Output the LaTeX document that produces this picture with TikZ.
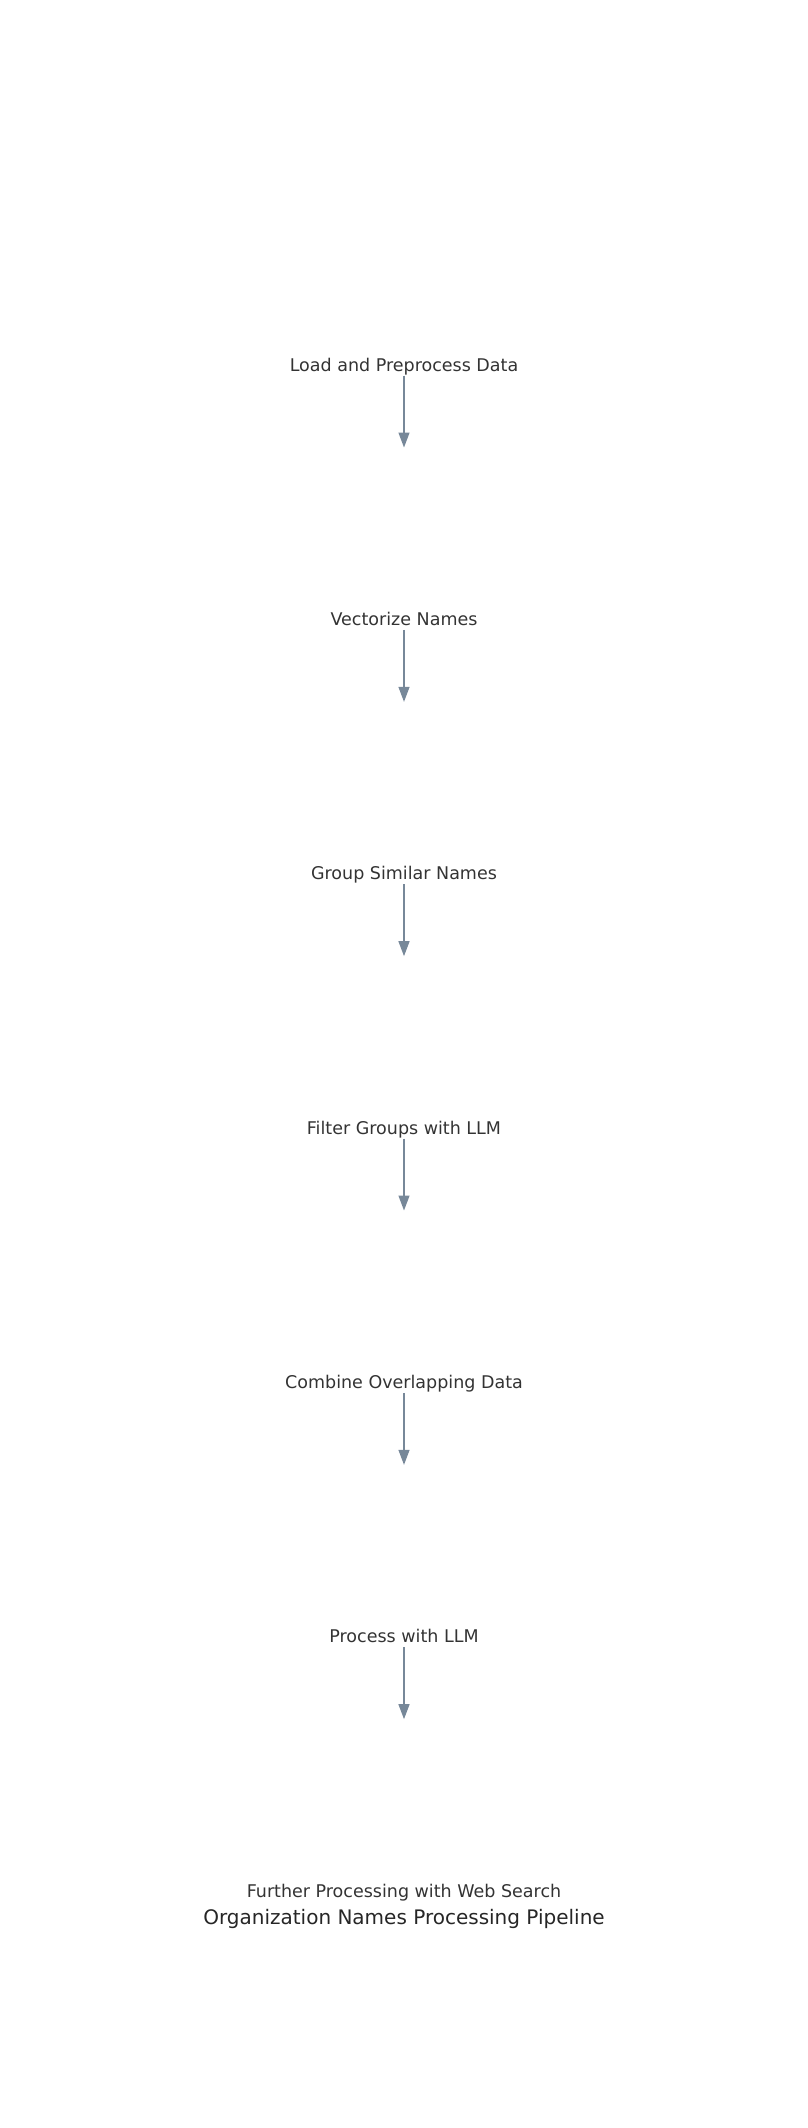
\documentclass[tikz,border=0pt]{standalone}
\usepackage{fontspec}
\setmainfont{DejaVu Sans}
\usetikzlibrary{arrows.meta,positioning}
\definecolor{arrowgray}{HTML}{778899}
\definecolor{textgray}{HTML}{333333}
\definecolor{titlegray}{HTML}{262626}

\begin{document}
\begin{tikzpicture}[x=1pt,y=1pt,
    stepnode/.style={inner sep=0pt, anchor=base, text=textgray,
      text depth=4.3pt, font=\fontsize{17.5}{21}\selectfont},
    flow/.style={draw=arrowgray, line width=1.3pt,
      -{Triangle[length=15pt,width=11pt]}}]
  \useasboundingbox (0,0) rectangle (808,-2128);

  % steps
  \foreach \i/\txt in {1/Load and Preprocess Data, 2/Vectorize Names,
      3/Group Similar Names, 4/Filter Groups with LLM,
      5/Combine Overlapping Data, 6/Process with LLM,
      7/Further Processing with Web Search}
    \node[stepnode] (s\i) at (404,{-371-(\i-1)*254.33}) {\txt};

  % arrows
  \foreach \i in {1,...,6} {
    \coordinate[below=72pt of s\i] (t\i);
    \draw[flow] (s\i) -- (t\i);
  }

  % title
  \node[inner sep=0pt, anchor=base, text=titlegray,
    font=\fontsize{20}{24}\selectfont] (title) at (404,-1924)
    {Organization Names Processing Pipeline};
\end{tikzpicture}
\end{document}
